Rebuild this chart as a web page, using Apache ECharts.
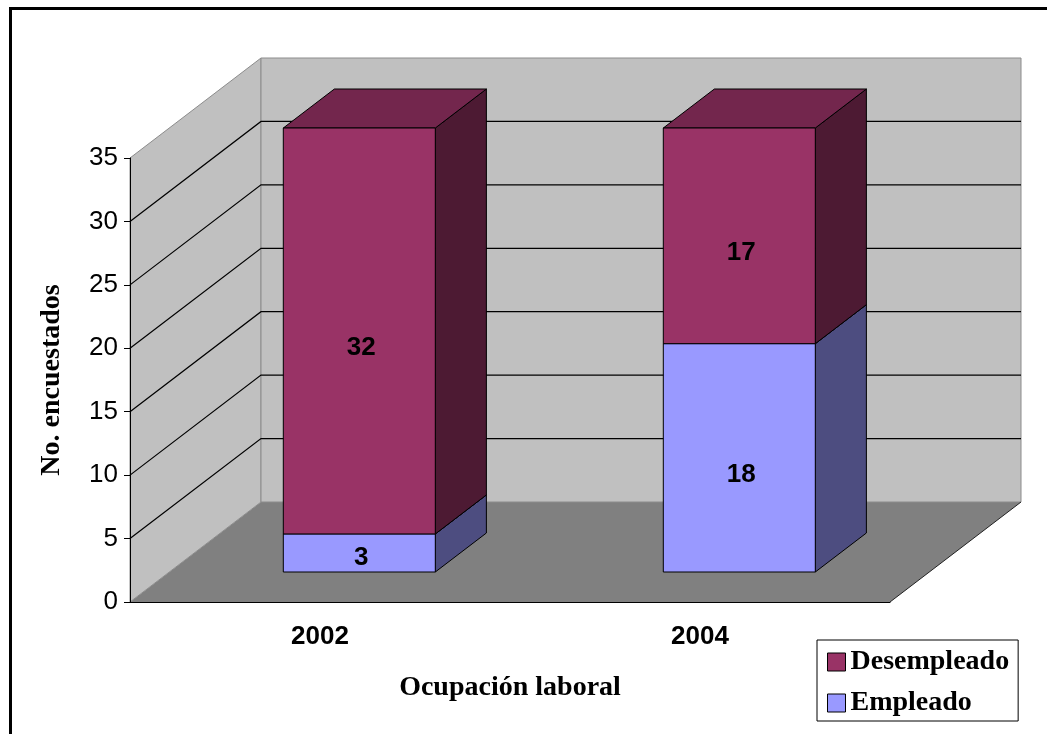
<!DOCTYPE html>
<html>
<head>
<meta charset="utf-8">
<title>Ocupación laboral</title>
<script src="https://cdn.jsdelivr.net/npm/echarts@6/dist/echarts.min.js"></script>
<style>
	html,
	body {
		margin: 0;
		padding: 0;
		background: #fff;
	}
	#chart {
		width: 1047px;
		height: 734px;
	}
</style>
</head>
<body>
<div id="chart"></div>
<script>
const years = ["2002", "2004"];
const empleado = [3, 18];
const desempleado = [32, 17];
const yTicks = [0, 5, 10, 15, 20, 25, 30, 35];

// 3D box depth in px, and where the bars sit inside it (0 = front, 1 = back)
const DEPTH = [131, -100];
const BAR_FRONT = 0.3;
const BAR_BACK = 0.69;
const BAR_WIDTH = 0.4;

const SANS = "'Liberation Sans', Arial, sans-serif";
const SERIF = "'Liberation Serif', 'Times New Roman', serif";

const shades = {
	Desempleado: { front: "#993366", top: "#73264d", side: "#4d1a33" },
	Empleado: { front: "#9999ff", top: "#7373bf", side: "#4d4d80" },
};

// walls, floor and gridlines of the box
function renderWalls(params, api) {
	const cs = params.coordSys;
	const v = api.value(1);
	const y = api.coord([0, v])[1];
	const x0 = cs.x;
	const x1 = cs.x + cs.width;
	const yTop = cs.y;
	const yBot = cs.y + cs.height;
	const [dx, dy] = DEPTH;
	const children = [];

	if (params.dataIndex === 0) {
		children.push({
			type: "polygon",
			shape: { points: [[x0, yBot], [x1, yBot], [x1 + dx, yBot + dy], [x0 + dx, yBot + dy]] },
			style: { fill: "#808080" },
		});
		children.push({
			type: "polygon",
			shape: { points: [[x0, yBot], [x0, yTop], [x0 + dx, yTop + dy], [x0 + dx, yBot + dy]] },
			style: { fill: "#c0c0c0", stroke: "#8c8c8c", lineWidth: 1 },
		});
		children.push({
			type: "rect",
			shape: { x: x0 + dx, y: yTop + dy, width: cs.width, height: cs.height },
			style: { fill: "#c0c0c0", stroke: "#8c8c8c", lineWidth: 1 },
		});
		children.push({
			type: "line",
			shape: { x1: x1, y1: yBot, x2: x1 + dx, y2: yBot + dy },
			style: { stroke: "#222", lineWidth: 1 },
		});
	} else if (v < yTicks[yTicks.length - 1]) {
		children.push({
			type: "polyline",
			shape: { points: [[x0, y], [x0 + dx, y + dy], [x1 + dx, y + dy]] },
			style: { stroke: "#000", lineWidth: 1.2, fill: null },
		});
	}
	return { type: "group", children };
}

// one stacked segment of a 3D bar
function renderBar(params, api) {
	const shade = shades[params.seriesName];
	const cat = api.value(0);
	const lo = api.value(1);
	const hi = api.value(2);
	const w = api.size([1, 0])[0] * BAR_WIDTH;
	const p0 = api.coord([cat, lo]);
	const p1 = api.coord([cat, hi]);
	const fx = DEPTH[0] * BAR_FRONT;
	const fy = DEPTH[1] * BAR_FRONT;
	const bx = DEPTH[0] * (BAR_BACK - BAR_FRONT);
	const by = DEPTH[1] * (BAR_BACK - BAR_FRONT);

	const left = p0[0] - w / 2 + fx;
	const right = p0[0] + w / 2 + fx;
	const bottom = p0[1] + fy;
	const top = p1[1] + fy;
	const edge = { stroke: "#000", lineWidth: 1 };

	const center = (top + bottom) / 2;
	const labelY = Math.min(center + 17, bottom - 14);

	return {
		type: "group",
		children: [
			{
				type: "polygon",
				shape: { points: [[right, bottom], [right + bx, bottom + by], [right + bx, top + by], [right, top]] },
				style: Object.assign({ fill: shade.side }, edge),
			},
			{
				type: "polygon",
				shape: { points: [[left, top], [right, top], [right + bx, top + by], [left + bx, top + by]] },
				style: Object.assign({ fill: shade.top }, edge),
			},
			{
				type: "rect",
				shape: { x: left, y: top, width: w, height: bottom - top },
				style: Object.assign({ fill: shade.front }, edge),
			},
			{
				type: "text",
				style: {
					text: String(hi - lo),
					x: (left + right) / 2 + 2,
					y: labelY,
					align: "center",
					verticalAlign: "middle",
					fill: "#000",
					font: "bold 26px " + SANS,
				},
			},
		],
	};
}

const empleadoData = empleado.map((v, i) => [i, 0, v]);
const desempleadoData = desempleado.map((v, i) => [i, empleado[i], empleado[i] + v]);

const option = {
	animation: false,
	backgroundColor: "#fff",
	grid: {
		left: 130,
		right: 157,
		top: 158,
		bottom: 132,
	},
	graphic: [
		{
			type: "polyline",
			shape: { points: [[10.5, 760], [10.5, 8.5], [1060, 8.5]] },
			style: { stroke: "#000", lineWidth: 3, fill: null },
			z: 10,
		},
	],
	legend: {
		data: ["Desempleado", "Empleado"],
		orient: "vertical",
		left: 817,
		top: 640,
		padding: [8, 9, 4, 10],
		itemGap: 13,
		itemWidth: 18,
		itemHeight: 18,
		icon: "rect",
		borderColor: "#000",
		borderWidth: 1,
		backgroundColor: "#fff",
		itemStyle: { borderColor: "#000", borderWidth: 1 },
		textStyle: {
			fontFamily: SERIF,
			fontWeight: "bold",
			fontSize: 28,
			color: "#000",
		},
	},
	xAxis: {
		type: "category",
		data: years,
		z: 5,
		name: "Ocupación laboral",
		nameLocation: "middle",
		nameGap: 72,
		nameTextStyle: {
			fontFamily: SERIF,
			fontWeight: "bold",
			fontSize: 28,
			color: "#000",
		},
		axisLine: { lineStyle: { color: "#000", width: 1 } },
		axisTick: { length: 6, lineStyle: { color: "#000" } },
		axisLabel: {
			margin: 22,
			fontFamily: SANS,
			fontWeight: "bold",
			fontSize: 26,
			color: "#000",
		},
		splitLine: { show: false },
	},
	yAxis: {
		type: "value",
		min: 0,
		max: 35,
		interval: 5,
		z: 5,
		name: "No. encuestados",
		nameLocation: "middle",
		nameGap: 64,
		nameTextStyle: {
			fontFamily: SERIF,
			fontWeight: "bold",
			fontSize: 28,
			color: "#000",
		},
		axisLine: { show: true, lineStyle: { color: "#000", width: 1 } },
		axisTick: { show: true, length: 6, lineStyle: { color: "#000" } },
		axisLabel: {
			margin: 12,
			fontFamily: SANS,
			fontSize: 26,
			color: "#000",
		},
		splitLine: { show: false },
	},
	series: [
		{
			type: "custom",
			name: "walls",
			z: 1,
			silent: true,
			encode: { x: 0, y: 1 },
			renderItem: renderWalls,
			data: yTicks.map(v => [0, v]),
		},
		{
			type: "custom",
			name: "Empleado",
			z: 2,
			encode: { x: 0, y: [1, 2] },
			itemStyle: { color: shades.Empleado.front },
			renderItem: renderBar,
			data: empleadoData,
		},
		{
			type: "custom",
			name: "Desempleado",
			z: 2,
			encode: { x: 0, y: [1, 2] },
			itemStyle: { color: shades.Desempleado.front },
			renderItem: renderBar,
			data: desempleadoData,
		},
	],
};

const myChart = echarts.init(document.getElementById("chart"));
myChart.setOption(option);
</script>
</body>
</html>
